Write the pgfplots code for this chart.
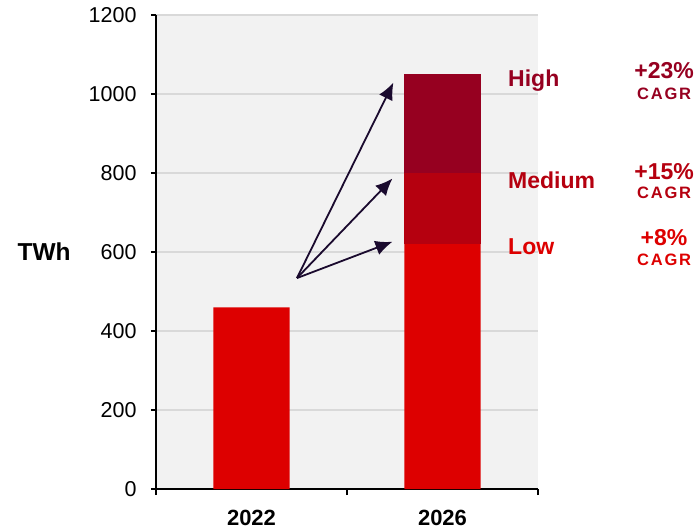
\documentclass[border=0pt]{standalone}
\usepackage{fontspec}
\setmainfont{Liberation Sans}
\usepackage{pgfplots}
\pgfplotsset{compat=1.18}
\usetikzlibrary{arrows.meta}
\definecolor{cLow}{HTML}{DD0000}
\definecolor{cMed}{HTML}{B5000F}
\definecolor{cHigh}{HTML}{960020}
\definecolor{cArrow}{HTML}{1A0A2E}
\definecolor{cBg}{HTML}{F2F2F2}
\definecolor{cGrid}{HTML}{D9D9D9}
\newcommand{\fs}[1]{\fontsize{#1bp}{1.2\dimexpr#1bp\relax}\selectfont}
\begin{document}
\begin{tikzpicture}
\useasboundingbox (-156bp,-42bp) rectangle (541bp,489bp);
\begin{axis}[
  scale only axis,
  width=382bp, height=474bp,
  at={(0,0)}, anchor=south west,
  ybar stacked,
  bar width=0.4,
  xmin=-0.5, xmax=1.5,
  ymin=0, ymax=1200,
  ytick={0,200,...,1200},
  xtick={0,1},
  xticklabels={2022,2026},
  minor xtick={-0.5,0.5,1.5},
  axis x line=bottom,
  axis y line=left,
  axis line style={-, line width=1.5bp, black},
  tick align=outside,
  major tick length=5bp,
  minor tick length=6bp,
  x tick style={draw=none},
  minor x tick style={draw=black, line width=1.5bp},
  y tick style={line width=1.5bp, black},
  ymajorgrids,
  major grid style={cGrid, line width=1.3bp},
  axis background/.style={fill=cBg},
  clip=false,
  /pgf/number format/assume math mode=true,
  /pgf/number format/1000 sep={},
  yticklabel style={font=\fs{21.5}, xshift=-11bp},
  xticklabel style={font=\fs{22}\bfseries, yshift=-13bp},
  ylabel={TWh},
  every axis y label/.style={at={(axis description cs:-0.293,0.5)}, anchor=center, font=\fs{24.5}\bfseries},
]
\addplot[fill=cLow, draw=none] coordinates {(0,460) (1,620)};
\addplot[fill=cMed, draw=none] coordinates {(0,0) (1,180)};
\addplot[fill=cHigh, draw=none] coordinates {(0,0) (1,250)};
\end{axis}
\begin{axis}[
  scale only axis,
  width=382bp, height=474bp,
  at={(0,0)}, anchor=south west,
  xmin=-0.5, xmax=1.5,
  ymin=0, ymax=1200,
  hide axis, clip=false,
]
\addplot[cArrow, line width=1.8bp, arrows={-Latex[length=17bp,width=15bp]}] coordinates {(0.238,534) (0.743,1029)};
\addplot[cArrow, line width=1.8bp, arrows={-Latex[length=17bp,width=15bp]}] coordinates {(0.238,534) (0.738,786)};
\addplot[cArrow, line width=1.8bp, arrows={-Latex[length=17bp,width=15bp]}] coordinates {(0.238,534) (0.738,626)};
\node[anchor=west, inner sep=0pt, text=cHigh, font=\fs{23}\bfseries] at (axis cs:1.343,1035) {High};
\node[anchor=west, inner sep=0pt, text=cMed, font=\fs{23}\bfseries] at (axis cs:1.343,782) {Medium};
\node[anchor=west, inner sep=0pt, text=cLow, font=\fs{23}\bfseries] at (axis cs:1.343,613) {Low};
\node[inner sep=0pt, text=cHigh, font=\fs{23}\bfseries] at (axis cs:2.16,1058) {+23\%};
\node[inner sep=0pt, text=cHigh, font=\fs{16.5}\bfseries\addfontfeatures{LetterSpace=11}] at (axis cs:2.16,1000) {CAGR};
\node[inner sep=0pt, text=cMed, font=\fs{23}\bfseries] at (axis cs:2.16,803) {+15\%};
\node[inner sep=0pt, text=cMed, font=\fs{16.5}\bfseries\addfontfeatures{LetterSpace=11}] at (axis cs:2.16,749) {CAGR};
\node[inner sep=0pt, text=cLow, font=\fs{23}\bfseries] at (axis cs:2.16,637) {+8\%};
\node[inner sep=0pt, text=cLow, font=\fs{16.5}\bfseries\addfontfeatures{LetterSpace=11}] at (axis cs:2.16,580) {CAGR};
\end{axis}
\end{tikzpicture}
\end{document}
